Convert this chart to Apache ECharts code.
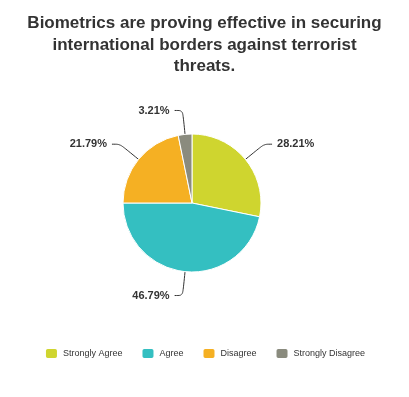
<!DOCTYPE html>
<html>
<head>
<meta charset="utf-8">
<script src="https://cdn.jsdelivr.net/npm/echarts@6/dist/echarts.min.js"></script>
<style>
  html, body { margin: 0; padding: 0; background: #fff; }
  #chart { width: 409px; height: 397px; }
</style>
</head>
<body>
<div id="chart"></div>
<script>
const categories = ['Strongly Agree', 'Agree', 'Disagree', 'Strongly Disagree'];
const values = [28.21, 46.79, 21.79, 3.21];
const colors = ['#cfd52f', '#34bfc1', '#f5b023', '#8a8b7e'];

const myChart = echarts.init(document.getElementById('chart'));

const option = {
    animation: false,
    color: colors,
    title: {
        text: 'Biometrics are proving effective in securing\ninternational borders against terrorist\nthreats.',
        left: 'center',
        top: 8,
        // extra right padding nudges the centred title a little to the left
        padding: [5, 15, 5, 5],
        textStyle: {
            fontFamily: 'Liberation Sans, Arial, sans-serif',
            fontSize: 17,
            fontWeight: 'bold',
            color: '#333',
            lineHeight: 21.5
        }
    },
    legend: {
        data: categories,
        top: 342,
        left: 'center',
        icon: 'roundRect',
        itemWidth: 13,
        itemHeight: 11,
        itemGap: 18,
        textStyle: {
            fontFamily: 'Liberation Sans, Arial, sans-serif',
            fontSize: 9,
            color: '#333'
        }
    },
    series: [
        {
            type: 'pie',
            center: [192, 203],
            radius: 69,
            startAngle: 90,
            clockwise: true,
            data: categories.map((name, i) => ({ name: name, value: values[i] })),
            label: {
                formatter: p => p.value.toFixed(2) + '%',
                fontFamily: 'Liberation Sans, Arial, sans-serif',
                fontSize: 11,
                fontWeight: 'bold',
                color: '#333'
            },
            labelLine: {
                length: 24,
                length2: 8,
                smooth: true,
                lineStyle: { color: '#333', width: 1 }
            },
            itemStyle: { borderColor: '#fff', borderWidth: 1 }
        }
    ]
};
myChart.setOption(option);
</script>
</body>
</html>
